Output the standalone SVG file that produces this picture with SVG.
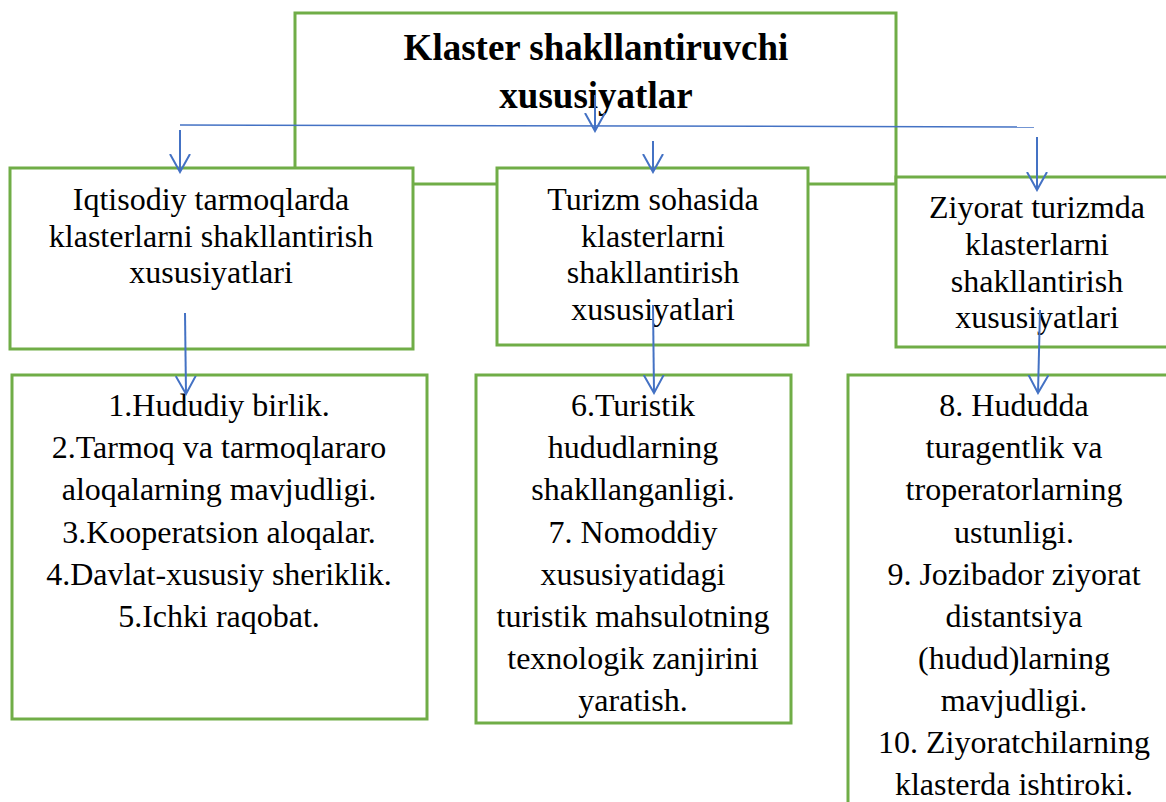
<svg xmlns="http://www.w3.org/2000/svg" width="1166" height="802" viewBox="0 0 1166 802">
<style>
.box{fill:#fff;stroke:#70AD47;stroke-width:3}
.t{font-family:"Liberation Serif","Times New Roman",serif;font-size:32px;fill:#000;text-anchor:middle}
.title{font-family:"Liberation Serif","Times New Roman",serif;font-size:37px;font-weight:bold;fill:#000;text-anchor:middle}
.c{stroke:#4472C4;stroke-width:2;fill:none}
.h{stroke:#4472C4;stroke-width:1.5;fill:none}
</style>
<defs>
<marker id="ah" viewBox="0 0 20 22" refX="18" refY="11" markerWidth="20" markerHeight="22" markerUnits="userSpaceOnUse" orient="auto">
<path d="M0,1 L18,11 L0,21" fill="none" stroke="#4472C4" stroke-width="2"/>
</marker>
</defs>
<rect width="1166" height="802" fill="#fff"/>
<g id="root">
<rect class="box" x="295" y="13" width="601" height="171"/>
<text class="title" x="596" y="60">Klaster shakllantiruvchi</text>
<text class="title" x="596" y="108">xususiyatlar</text>
</g>
<g id="n1">
<rect class="box" x="10" y="168" width="403" height="181"/>
<text class="t" x="211" y="210">Iqtisodiy tarmoqlarda</text>
<text class="t" x="211" y="247">klasterlarni shakllantirish</text>
<text class="t" x="211" y="283">xususiyatlari</text>
</g>
<g id="n2">
<rect class="box" x="497" y="168" width="311" height="177"/>
<text class="t" x="653" y="210">Turizm sohasida</text>
<text class="t" x="653" y="247">klasterlarni</text>
<text class="t" x="653" y="283">shakllantirish</text>
<text class="t" x="653" y="320">xususiyatlari</text>
</g>
<g id="n3">
<rect class="box" x="896" y="177" width="290" height="170"/>
<text class="t" x="1037" y="218">Ziyorat turizmda</text>
<text class="t" x="1037" y="255">klasterlarni</text>
<text class="t" x="1037" y="292">shakllantirish</text>
<text class="t" x="1037" y="328">xususiyatlari</text>
</g>
<g id="n4">
<rect class="box" x="12" y="375" width="415" height="344"/>
<text class="t" x="219" y="416">1.Hududiy birlik.</text>
<text class="t" x="219" y="458">2.Tarmoq va tarmoqlararo</text>
<text class="t" x="219" y="500">aloqalarning mavjudligi.</text>
<text class="t" x="219" y="543">3.Kooperatsion aloqalar.</text>
<text class="t" x="219" y="585">4.Davlat-xususiy sheriklik.</text>
<text class="t" x="219" y="627">5.Ichki raqobat.</text>
</g>
<g id="n5">
<rect class="box" x="476" y="375" width="315" height="348"/>
<text class="t" x="633" y="416">6.Turistik</text>
<text class="t" x="633" y="458">hududlarning</text>
<text class="t" x="633" y="500">shakllanganligi.</text>
<text class="t" x="633" y="543">7. Nomoddiy</text>
<text class="t" x="633" y="585">xususiyatidagi</text>
<text class="t" x="633" y="627">turistik mahsulotning</text>
<text class="t" x="633" y="669">texnologik zanjirini</text>
<text class="t" x="633" y="711">yaratish.</text>
</g>
<g id="n6">
<rect class="box" x="848" y="375" width="340" height="440"/>
<text class="t" x="1014" y="416">8. Hududda</text>
<text class="t" x="1014" y="458">turagentlik va</text>
<text class="t" x="1014" y="500">troperatorlarning</text>
<text class="t" x="1014" y="543">ustunligi.</text>
<text class="t" x="1014" y="585">9. Jozibador ziyorat</text>
<text class="t" x="1014" y="627">distantsiya</text>
<text class="t" x="1014" y="669">(hudud)larning</text>
<text class="t" x="1014" y="711">mavjudligi.</text>
<text class="t" x="1014" y="753">10. Ziyoratchilarning</text>
<text class="t" x="1014" y="795">klasterda ishtiroki.</text>
</g>
<g id="connectors">
<line class="h" x1="180" y1="125" x2="1034" y2="127"/>
<line class="c" x1="595" y1="95" x2="595" y2="131" marker-end="url(#ah)"/>
<line class="c" x1="180" y1="130" x2="180" y2="172" marker-end="url(#ah)"/>
<line class="c" x1="653" y1="141" x2="653" y2="172" marker-end="url(#ah)"/>
<line class="c" x1="1037" y1="137" x2="1037" y2="190" marker-end="url(#ah)"/>
<line class="c" x1="185" y1="313" x2="186" y2="394" marker-end="url(#ah)"/>
<line class="c" x1="653" y1="305" x2="654" y2="393" marker-end="url(#ah)"/>
<line class="c" x1="1040" y1="310" x2="1038" y2="393" marker-end="url(#ah)"/>
</g>
</svg>
